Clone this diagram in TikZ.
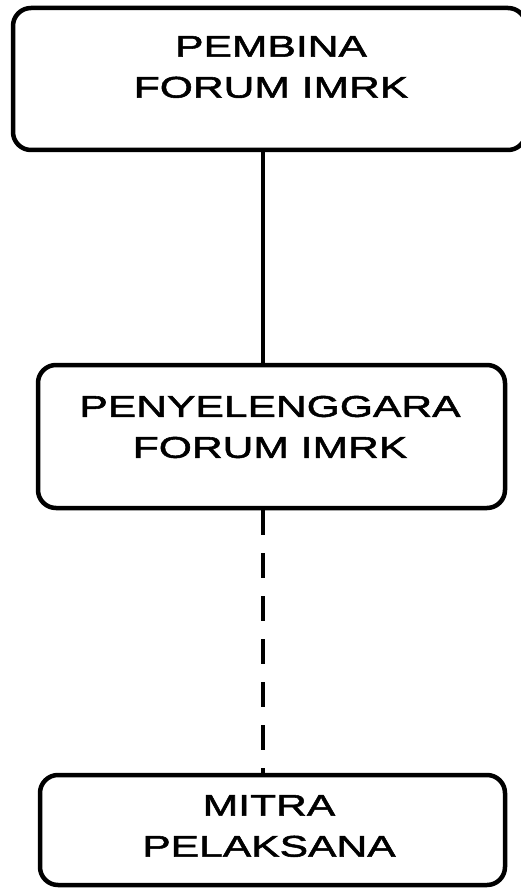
\documentclass[tikz,border=0pt]{standalone}
\usepackage{fontspec}
\setmainfont{Liberation Sans}[FakeStretch=1.42,FakeBold=1.8]
\begin{document}
\begin{tikzpicture}[x=1pt,y=-1pt,
  orgbox/.style={draw=black,line width=4.5pt,rounded corners=18pt,inner sep=0pt},
  lbl/.style={font=\fontsize{30}{41}\selectfont,align=center,inner sep=0pt,text=black},
  link/.style={draw=black,line width=4pt},
  dashlink/.style={link,dash pattern=on 25pt off 18pt}]
  \useasboundingbox (0,0) rectangle (521,890);
  \clip (0,0) rectangle (521,890);
  % boxes (top box runs past the right edge)
  \node[orgbox,minimum width=513pt,minimum height=142pt] (pembina) at (269.5,79) {};
  \node[orgbox,minimum width=467pt,minimum height=143pt] (penyel) at (271.5,436.5) {};
  \node[orgbox,minimum width=465pt,minimum height=110pt] (mitra) at (272.5,830) {};
  % labels
  \node[lbl] (tpembina) at (271,67) {PEMBINA\\FORUM IMRK};
  \node[lbl] (tpenyel) at (270,427) {PENYELENGGARA\\FORUM IMRK};
  \node[lbl] (tmitra) at (269,826) {MITRA\\PELAKSANA};
  % connectors
  \coordinate (c1) at (263,0);
  \draw[link] (pembina.south -| c1) -- (penyel.north -| c1);
  \draw[dashlink] (penyel.south -| c1) -- (mitra.north -| c1);
\end{tikzpicture}
\end{document}
